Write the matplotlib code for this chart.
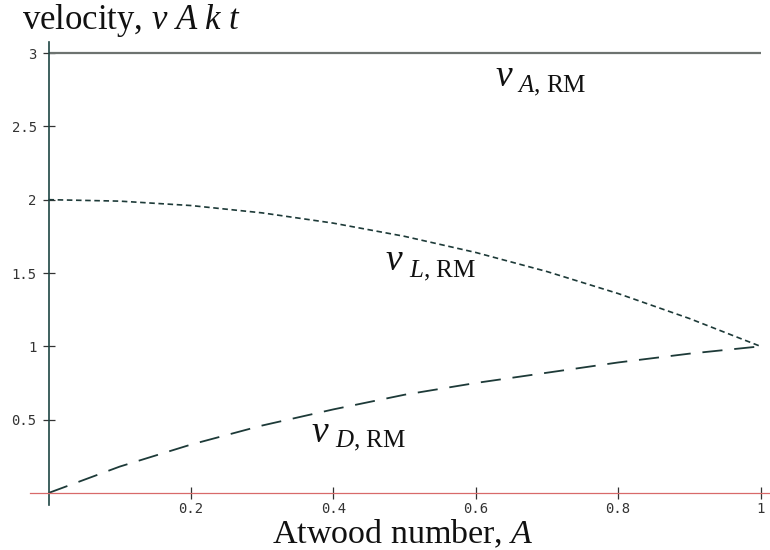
import matplotlib
matplotlib.use("Agg")
import matplotlib.pyplot as plt

plt.rcParams['mathtext.fontset'] = 'custom'
plt.rcParams['mathtext.rm'] = 'Liberation Serif'
plt.rcParams['mathtext.it'] = 'Liberation Serif:italic'
plt.rcParams['mathtext.bf'] = 'Liberation Serif:bold'

# Data
atwood = [0.0, 0.1, 0.2, 0.3, 0.4, 0.5, 0.6, 0.7, 0.8, 0.9, 1.0]
v_L = [2.0, 1.99, 1.96, 1.91, 1.84, 1.75, 1.64, 1.51, 1.36, 1.19, 1.0]
v_D = [0.0, 0.18, 0.33, 0.46, 0.57, 0.67, 0.75, 0.82, 0.89, 0.95, 1.0]
v_A = [3.0] * len(atwood)

xticks = [0.2, 0.4, 0.6, 0.8, 1.0]
xticklabels = ['0.2', '0.4', '0.6', '0.8', '1']
yticks = [0.5, 1.0, 1.5, 2.0, 2.5, 3.0]
yticklabels = ['0.5', '1', '1.5', '2', '2.5', '3']

curve_names = ['A', 'L', 'D']

W, H = 770, 550
fig = plt.figure(figsize=(W / 100, H / 100), dpi=100)
ax = fig.add_axes([0, 0, 1, 1])
ax.patch.set_alpha(0)

# pixel mapping: x=0 -> 48px, x=1 -> 760px ; y=0 -> 493px, y=3 -> 53px
x0, sx = 48.5, 712.0
y0, sy = 493.0, 440.0 / 3
ax.set_xlim(-x0 / sx, (W - x0) / sx)
ax.set_ylim(-(H - y0) / sy, y0 / sy)

curve_col = '#1d3a38'
ax.plot(atwood, v_A, color='#6d7370', lw=1.6, solid_capstyle='butt')
lw_L = 1.2
ax.plot(atwood, v_L, color=curve_col, lw=lw_L, dashes=(4.0 / lw_L, 2.6 / lw_L))
lw_D = 1.3
ax.plot(atwood, v_D, color=curve_col, lw=lw_D, dashes=(14.5 / lw_D, 8.5 / lw_D))

for s in ['top', 'right']:
    ax.spines[s].set_visible(False)
ax.spines['left'].set_position(('data', 0))
ax.spines['bottom'].set_position(('data', 0))
ax.spines['left'].set_color('#1e4643')
ax.spines['left'].set_linewidth(1.2)
ax.spines['left'].set_bounds((y0 - 505) / sy, (y0 - 42) / sy)
ax.spines['bottom'].set_color('#d86a6a')
ax.spines['bottom'].set_linewidth(0.9)
ax.spines['bottom'].set_bounds((30 - x0) / sx, (W - x0) / sx)

ax.set_xticks(xticks)
ax.set_xticklabels(xticklabels)
ax.set_yticks(yticks)
ax.set_yticklabels(yticklabels)
ax.tick_params(axis='both', direction='inout', length=8, width=0.9, color='#333333',
               labelsize=10, labelcolor='#333333')
ax.tick_params(axis='x', pad=2.5)
ax.tick_params(axis='y', pad=4.5)
for lab in ax.get_xticklabels() + ax.get_yticklabels():
    lab.set_family('DejaVu Sans Mono')

# axis titles
fig.text(22 / W, 1 - 29 / H, r'velocity, $v\ A\ k\ t$', family='Liberation Serif',
         fontsize=25, ha='left', va='baseline', color='#111111')
fig.text(403 / W, 1 - 543 / H, r'Atwood number, $A$', family='Liberation Serif',
         fontsize=24.5, ha='center', va='baseline', color='#111111')

# curve labels
def dx(px):
    return (px - x0) / sx

def dy(py):
    return (y0 - py) / sy

label_pos = [(495, 86, 517, 92), (385, 270, 409, 277), (311, 442, 335, 447)]
for name, (vx, vy, sx_, sy_) in zip(curve_names, label_pos):
    ax.text(dx(vx), dy(vy), 'v', family='Liberation Serif', style='italic',
            fontsize=27, ha='left', va='baseline', color='#111111')
    ax.text(dx(sx_), dy(sy_), r'$%s$, RM' % name, family='Liberation Serif',
            fontsize=18, ha='left', va='baseline', color='#111111')

fig.savefig('out.png', dpi=100)
